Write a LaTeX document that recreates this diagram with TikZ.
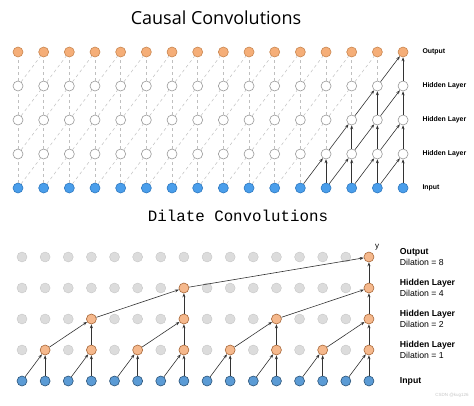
\documentclass[tikz,border=0pt]{standalone}
\usepackage{fontspec}
\setsansfont{Liberation Sans}
\newfontfamily\titlefont{Open Sans}
\newfontfamily\monotitle{Liberation Mono}
\usetikzlibrary{positioning, arrows.meta}

\definecolor{topOrange}{HTML}{F5AE78}
\definecolor{topOrangeLine}{HTML}{C98650}
\definecolor{topBlue}{HTML}{4A9EEB}
\definecolor{topBlueLine}{HTML}{2D78C0}
\definecolor{dilOrange}{HTML}{F5B88C}
\definecolor{dilOrangeLine}{HTML}{A8683A}
\definecolor{dilBlue}{HTML}{5B9BD5}
\definecolor{dilBlueLine}{HTML}{2C5478}
\definecolor{ghost}{HTML}{DCDCDC}

\begin{document}
\begin{tikzpicture}[
    x=1pt, y=-1pt,
    unit/.style={
        circle,
        draw,
        inner sep=0pt,
        minimum size=10pt,
        line width=0.6pt
    },
    outunit/.style={unit, fill=topOrange, draw=topOrangeLine},
    hidunit/.style={unit, fill=white, draw=gray!80},
    inunit/.style={unit, fill=topBlue, draw=topBlueLine},
    dilunit/.style={unit, fill=dilOrange, draw=dilOrangeLine},
    dilin/.style={unit, fill=dilBlue, draw=dilBlueLine},
    ghostunit/.style={unit, fill=ghost, draw=ghost!90!black, line width=0.4pt},
    faint/.style={draw=gray!50, dashed, line width=0.5pt},
    arr/.style={draw=black!80, line width=0.6pt, -{Stealth[length=4pt, width=3pt]}},
    lab/.style={font=\sffamily\bfseries\fontsize{6.9}{8}\selectfont, anchor=west, inner sep=0.5pt},
    dlab/.style={font=\sffamily\fontsize{8.7}{10.5}\selectfont, align=left, anchor=west, inner sep=0.5pt}
]
\useasboundingbox (0,0) rectangle (474,405);

% Causal convolutions
\node[font=\titlefont\fontsize{18}{20}\selectfont] (ctitle) at (216,18) {Causal Convolutions};

\foreach \j in {0,...,15} {
    \node[inunit] (c0-\j) at (18+25.67*\j,188) {};
    \node[hidunit] (c1-\j) at (18+25.67*\j,154) {};
    \node[hidunit] (c2-\j) at (18+25.67*\j,120) {};
    \node[hidunit] (c3-\j) at (18+25.67*\j,86) {};
    \node[outunit] (c4-\j) at (18+25.67*\j,52) {};
}

\foreach \r [evaluate=\r as \s using int(\r+1)] in {0,...,3} {
    \foreach \j [evaluate=\j as \p using int(\j-1)] in {0,...,15} {
        \ifnum\j<\numexpr12+\r\relax
            \draw[faint] (c\r-\j) -- (c\s-\j);
            \ifnum\j>0 \draw[faint] (c\r-\p) -- (c\s-\j); \fi
        \else
            \draw[arr] (c\r-\j) -- (c\s-\j);
            \draw[arr] (c\r-\p) -- (c\s-\j);
        \fi
    }
}

\node[lab, right=13.5pt of c4-15] (cout) {Output};
\node[lab, right=13.5pt of c3-15] (chid3) {Hidden Layer};
\node[lab, right=13.5pt of c2-15] (chid2) {Hidden Layer};
\node[lab, right=13.5pt of c1-15] (chid1) {Hidden Layer};
\node[lab, right=13.5pt of c0-15] (cin) {Input};

% Dilated convolutions
\node[font=\monotitle\fontsize{15.8}{18}\selectfont] (dtitle) at (238,216) {Dilate Convolutions};

\foreach \j in {0,...,15} {
    \node[dilin] (d0-\j) at (22+23.13*\j,381) {};
    \foreach \r in {1,...,4} {
        \pgfmathtruncatemacro\m{mod(\j+1,2^\r)}
        \ifnum\m=0
            \node[dilunit] (d\r-\j) at (22+23.13*\j,381-31*\r) {};
        \else
            \node[ghostunit] (d\r-\j) at (22+23.13*\j,381-31*\r) {};
        \fi
    }
}

\foreach \r [evaluate=\r as \s using int(\r+1), evaluate=\r as \g using int(2^\r)] in {0,...,3} {
    \foreach \j in {0,...,15} {
        \pgfmathtruncatemacro\m{mod(\j+1,2*\g)}
        \pgfmathtruncatemacro\p{\j-\g}
        \ifnum\m=0
            \draw[arr] (d\r-\j) -- (d\s-\j);
            \draw[arr] (d\r-\p) -- (d\s-\j);
        \fi
    }
}

\node[font=\sffamily\fontsize{8}{9}\selectfont, above right=0pt and -1pt of d4-15] (yout) {y};

\node[dlab, right=25pt of d4-15] (dout) {\textbf{Output}\\Dilation = 8};
\node[dlab, right=25pt of d3-15] (dhid3) {\textbf{Hidden Layer}\\Dilation = 4};
\node[dlab, right=25pt of d2-15] (dhid2) {\textbf{Hidden Layer}\\Dilation = 2};
\node[dlab, right=25pt of d1-15] (dhid1) {\textbf{Hidden Layer}\\Dilation = 1};
\node[dlab, right=25pt of d0-15] (din) {\textbf{Input}};

\node[font=\sffamily\fontsize{4.5}{5}\selectfont, text=gray!45] (mark) at (452,395) {CSDN @kug126};

\end{tikzpicture}
\end{document}
